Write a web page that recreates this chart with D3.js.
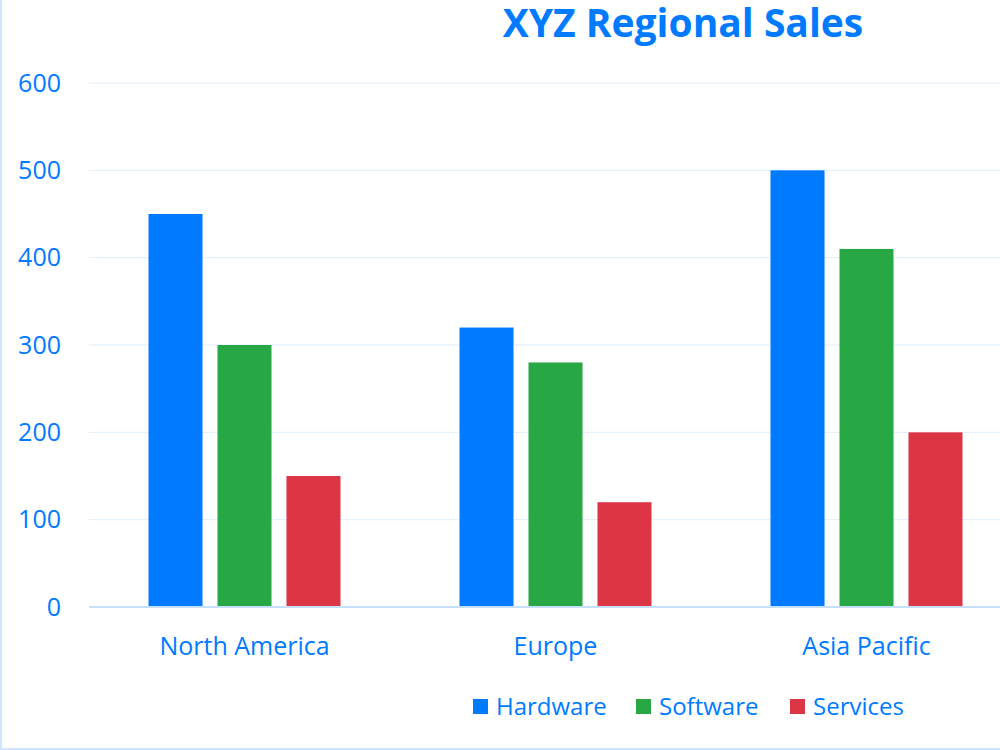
<!DOCTYPE html>
<html>
<head>
<meta charset="utf-8">
<script src="https://cdn.jsdelivr.net/npm/d3@7"></script>
<style>
  body { margin: 0; background: #fff; }
  svg text { font-family: "Open Sans", "Noto Sans", sans-serif; fill: #007bff; }
</style>
</head>
<body>
<div id="chart"></div>
<script>
// chart data
var regions = ["North America", "Europe", "Asia Pacific"];
var seriesNames = ["Hardware", "Software", "Services"];
var hardware = [450, 320, 500];
var software = [300, 280, 410];
var services = [150, 120, 200];
var seriesColors = ["#007bff", "#28a745", "#dc3545"];
var yTicks = [0, 100, 200, 300, 400, 500, 600];

var W = 1000, H = 750;
var margin = {top: 83, left: 89, bottom: 143},
    plotW = 933, // plot runs past the right edge, like the cropped original
    plotH = H - margin.top - margin.bottom;

var svg = d3.select("#chart").append("svg")
    .attr("width", W)
    .attr("height", H);

// light container border (left + bottom visible only)
svg.append("line").attr("x1", 1).attr("x2", 1).attr("y1", 0).attr("y2", H)
    .attr("stroke", "#cfe5fb").attr("stroke-width", 2);
svg.append("line").attr("x1", 0).attr("x2", W).attr("y1", H - 1).attr("y2", H - 1)
    .attr("stroke", "#cfe5fb").attr("stroke-width", 2);

var g = svg.append("g").attr("transform", "translate(" + margin.left + "," + margin.top + ")");

var x0 = d3.scaleBand().domain(regions).range([0, plotW]).padding(0);
var x1 = d3.scaleBand().domain(seriesNames)
    .range([59.5, x0.bandwidth() - 59.5]).paddingInner(0.217);
var y = d3.scaleLinear().domain([0, 600]).range([plotH, 0]);

// gridlines
g.selectAll(".grid").data(yTicks.filter(function(d){ return d > 0; }))
  .enter().append("line")
    .attr("x1", 0).attr("x2", plotW)
    .attr("y1", function(d){ return y(d); }).attr("y2", function(d){ return y(d); })
    .attr("stroke", "#dfeefc").attr("stroke-width", 1);

// y tick labels
var yAxis = g.append("g").call(d3.axisLeft(y).tickValues(yTicks).tickSize(0).tickPadding(28));
yAxis.select(".domain").remove();
yAxis.selectAll("text").style("font-size", "25px").attr("fill", "#007bff");

// bars
var rows = regions.map(function(r, i){
  return {region: r, values: [hardware[i], software[i], services[i]]};
});
var groups = g.selectAll(".group").data(rows).enter().append("g")
    .attr("transform", function(d){ return "translate(" + x0(d.region) + ",0)"; });
groups.selectAll("rect").data(function(d){
    return d.values.map(function(v, j){ return {name: seriesNames[j], value: v, color: seriesColors[j]}; });
  })
  .enter().append("rect")
    .attr("x", function(d){ return x1(d.name); })
    .attr("width", x1.bandwidth())
    .attr("y", function(d){ return y(d.value); })
    .attr("height", function(d){ return plotH - y(d.value); })
    .attr("fill", function(d){ return d.color; });

// x axis baseline + labels
g.append("line").attr("x1", 0).attr("x2", plotW).attr("y1", plotH).attr("y2", plotH)
    .attr("stroke", "#c6e0fb").attr("stroke-width", 2);
var xAxis = g.append("g").attr("transform", "translate(0," + plotH + ")")
    .call(d3.axisBottom(x0).tickSize(0).tickPadding(30));
xAxis.select(".domain").remove();
xAxis.selectAll("text").style("font-size", "25px").attr("fill", "#007bff");

// title
svg.append("text").attr("x", 683).attr("y", 37).attr("text-anchor", "middle")
    .style("font-size", "39px").style("font-weight", "bold").text("XYZ Regional Sales");

// legend
var legendX = [473, 636, 790];
var legend = svg.selectAll(".legend").data(seriesNames).enter().append("g")
    .attr("transform", function(d, i){ return "translate(" + legendX[i] + ",699)"; });
legend.append("rect").attr("width", 15).attr("height", 15)
    .attr("fill", function(d, i){ return seriesColors[i]; });
legend.append("text").attr("x", 23).attr("y", 16).style("font-size", "24px").text(function(d){ return d; });
</script>
</body>
</html>
